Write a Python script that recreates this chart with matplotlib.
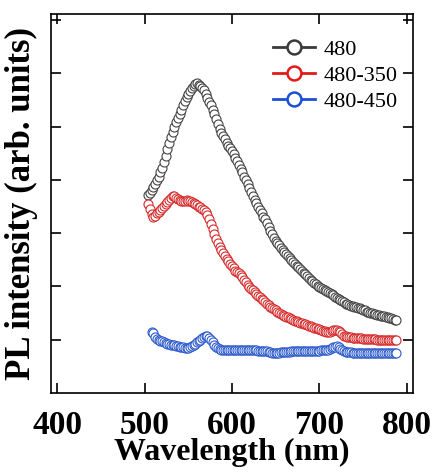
import matplotlib
matplotlib.use("Agg")
import matplotlib.pyplot as plt
from matplotlib.lines import Line2D

# PL spectra, intensity in arbitrary units
wavelength = [504, 506, 508, 510, 512, 514, 516, 518, 520, 522, 524, 526,
              528, 530, 532, 534, 536, 538, 540, 542, 544, 546, 548, 550,
              552, 554, 556, 558, 560, 562, 564, 566, 568, 570, 572, 574,
              576, 578, 580, 582, 584, 586, 588, 590, 592, 594, 596, 598,
              600, 602, 604, 606, 608, 610, 612, 614, 616, 618, 620, 622,
              624, 626, 628, 630, 632, 634, 636, 638, 640, 642, 644, 646,
              648, 650, 652, 654, 656, 658, 660, 662, 664, 666, 668, 670,
              672, 674, 676, 678, 680, 682, 684, 686, 688, 690, 692, 694,
              696, 698, 700, 702, 704, 706, 708, 710, 712, 714, 716, 718,
              720, 722, 724, 726, 728, 730, 732, 734, 736, 738, 740, 742,
              744, 746, 748, 750, 752, 754, 756, 758, 760, 762, 764, 766,
              768, 770, 772, 774, 776, 778, 780, 782, 784, 786, 788]

pl_480 = [3.71, 3.76, 3.82, 3.87, 3.93, 3.99, 4.06, 4.14, 4.22, 4.33, 4.45, 4.58,
          4.70, 4.80, 4.90, 5.00, 5.08, 5.16, 5.24, 5.32, 5.40, 5.48, 5.55, 5.61,
          5.66, 5.72, 5.76, 5.80, 5.82, 5.79, 5.76, 5.73, 5.68, 5.62, 5.54, 5.47,
          5.40, 5.32, 5.24, 5.14, 5.05, 4.96, 4.88, 4.82, 4.77, 4.70, 4.64, 4.59,
          4.54, 4.48, 4.42, 4.35, 4.28, 4.21, 4.14, 4.06, 3.99, 3.92, 3.85, 3.77,
          3.70, 3.63, 3.56, 3.49, 3.43, 3.37, 3.31, 3.26, 3.20, 3.12, 3.05, 2.98,
          2.91, 2.86, 2.82, 2.77, 2.73, 2.69, 2.65, 2.61, 2.57, 2.53, 2.50, 2.46,
          2.43, 2.39, 2.36, 2.32, 2.29, 2.26, 2.23, 2.19, 2.16, 2.13, 2.10, 2.07,
          2.04, 2.01, 1.99, 1.97, 1.95, 1.93, 1.91, 1.89, 1.87, 1.85, 1.84, 1.81,
          1.79, 1.76, 1.74, 1.72, 1.70, 1.68, 1.67, 1.65, 1.64, 1.63, 1.62, 1.61,
          1.60, 1.59, 1.58, 1.56, 1.55, 1.53, 1.52, 1.51, 1.50, 1.49, 1.48, 1.47,
          1.46, 1.45, 1.45, 1.44, 1.43, 1.42, 1.41, 1.40, 1.39, 1.38, 1.37]

pl_480_350 = [3.55, 3.45, 3.36, 3.31, 3.33, 3.37, 3.40, 3.44, 3.47, 3.51, 3.55, 3.59,
              3.62, 3.66, 3.69, 3.70, 3.66, 3.64, 3.62, 3.60, 3.60, 3.61, 3.62, 3.61,
              3.60, 3.58, 3.56, 3.54, 3.52, 3.50, 3.49, 3.46, 3.43, 3.40, 3.35, 3.27,
              3.18, 3.08, 2.98, 2.90, 2.82, 2.75, 2.68, 2.63, 2.58, 2.52, 2.47, 2.43,
              2.38, 2.34, 2.30, 2.27, 2.25, 2.21, 2.18, 2.13, 2.08, 2.03, 1.99, 1.96,
              1.93, 1.89, 1.86, 1.83, 1.80, 1.77, 1.74, 1.71, 1.68, 1.65, 1.62, 1.60,
              1.58, 1.55, 1.53, 1.51, 1.49, 1.47, 1.45, 1.43, 1.42, 1.40, 1.39, 1.37,
              1.36, 1.35, 1.34, 1.32, 1.31, 1.30, 1.29, 1.27, 1.26, 1.25, 1.24, 1.23,
              1.22, 1.21, 1.20, 1.18, 1.17, 1.16, 1.15, 1.15, 1.15, 1.16, 1.18, 1.19,
              1.18, 1.16, 1.14, 1.11, 1.08, 1.07, 1.06, 1.05, 1.05, 1.04, 1.04, 1.03,
              1.03, 1.03, 1.03, 1.02, 1.02, 1.02, 1.02, 1.01, 1.01, 1.01, 1.01, 1.00,
              1.00, 1.00, 1.00, 0.99, 0.99, 0.99, 0.99, 0.99, 0.99, 0.99, 0.99]

# this one starts at 508 nm
pl_480_450 = [1.15, 1.12, 1.05, 1.02, 1.00, 0.98, 0.97, 0.95, 0.94, 0.93,
              0.92, 0.91, 0.90, 0.90, 0.89, 0.88, 0.87, 0.87, 0.86, 0.85, 0.85, 0.85,
              0.86, 0.88, 0.90, 0.92, 0.95, 0.98, 1.00, 1.03, 1.05, 1.07, 1.07, 1.04,
              1.00, 0.95, 0.91, 0.87, 0.84, 0.82, 0.81, 0.81, 0.81, 0.80, 0.80, 0.81,
              0.81, 0.81, 0.81, 0.80, 0.80, 0.80, 0.80, 0.81, 0.81, 0.81, 0.81, 0.80,
              0.80, 0.80, 0.80, 0.79, 0.79, 0.79, 0.79, 0.78, 0.78, 0.77, 0.77, 0.76,
              0.76, 0.76, 0.76, 0.76, 0.77, 0.77, 0.77, 0.77, 0.77, 0.77, 0.78, 0.78,
              0.78, 0.78, 0.78, 0.78, 0.78, 0.78, 0.78, 0.78, 0.78, 0.79, 0.79, 0.79,
              0.79, 0.79, 0.79, 0.80, 0.80, 0.80, 0.80, 0.81, 0.83, 0.85, 0.86, 0.87,
              0.88, 0.86, 0.83, 0.80, 0.78, 0.77, 0.77, 0.77, 0.77, 0.76, 0.76, 0.76,
              0.76, 0.76, 0.76, 0.76, 0.76, 0.76, 0.76, 0.76, 0.76, 0.76, 0.76, 0.76,
              0.76, 0.76, 0.76, 0.76, 0.76, 0.76, 0.76, 0.76, 0.76, 0.76, 0.76]

labels = ["480", "480-350", "480-450"]
colors = ["#444444", "#d62a2a", "#2d5bcc"]
line_colors = ["#3a3a3a", "#e01b1b", "#1a4fd6"]

plt.rcParams["font.family"] = ["Liberation Serif", "DejaVu Serif"]

fig = plt.figure(figsize=(4.34, 4.73), dpi=100)
ax = fig.add_axes([0.1175, 0.169, 0.834, 0.801])

series = [(wavelength, pl_480), (wavelength, pl_480_350),
          (wavelength[2:], pl_480_450)]
for (x, y), c in zip(series, colors):
    ax.plot(x, y, "-", color=c, lw=0.8, marker="o", ms=6.5,
            mfc="white", mec=c, mew=0.8)

ax.set_xlim(393, 807)
ax.set_ylim(0, 7.11)
ax.set_xticks([400, 500, 600, 700, 800])
ax.set_yticks([1, 2, 3, 4, 5, 6, 7])
ax.set_yticklabels([])
ax.tick_params(direction="in", length=7, width=1.2, top=True, right=True,
               labelsize=24, pad=12)
for lab in ax.get_xticklabels():
    lab.set_fontweight("bold")
for sp in ax.spines.values():
    sp.set_linewidth(1.2)

ax.set_xlabel("Wavelength (nm)", fontsize=23, fontweight="bold", labelpad=-2)
ax.set_ylabel("PL intensity (arb. units)", fontsize=25, fontweight="bold")
ax.yaxis.set_label_coords(-0.035, 0.5)

handles = [Line2D([], [], color=lc, lw=2, marker="o", ms=10,
                  mfc="white", mec=lc, mew=1.8) for lc in line_colors]
ax.legend(handles, labels, loc="upper left", bbox_to_anchor=(0.613, 0.934),
          frameon=False, fontsize=16, handlelength=1.9, handletextpad=0.4,
          labelspacing=0.25, borderpad=0, borderaxespad=0)

fig.savefig("out.png", dpi=100)
